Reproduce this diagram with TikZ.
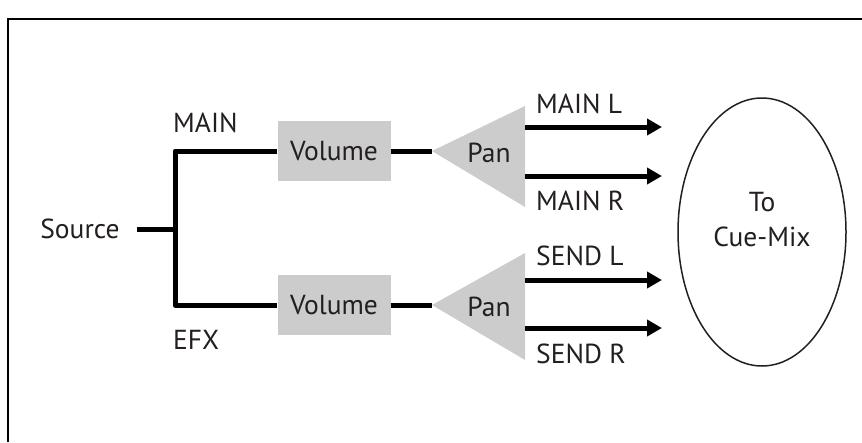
\documentclass[tikz,border=0pt]{standalone}
\usepackage{fontspec}
\setmainfont{PT Sans}
\usetikzlibrary{arrows.meta,shapes.geometric}
\definecolor{ink}{HTML}{231F20}
\definecolor{boxgray}{RGB}{204,204,204}
\tikzset{
  lbl/.style={font=\fontsize{27.5}{32}\selectfont, text=ink, inner sep=0pt},
  volbox/.style={lbl, fill=boxgray, minimum width=113pt, minimum height=60pt},
  wire/.style={draw=black, line width=5pt, line join=round},
  outwire/.style={wire, -{Triangle[length=15pt,width=16pt]}},
  panfill/.style={fill=boxgray},
}
\begin{document}
\begin{tikzpicture}[x=1pt,y=-1pt]
\useasboundingbox (0,0) rectangle (862,442);
% frame
\draw[line width=2pt] (8,442) -- (8,19) -- (862,19);

% source and split
\node[lbl] (src) at (80,229) {Source};
\coordinate (junc) at (175,229);
\node[lbl, anchor=west] (mainlbl) at (173,123) {MAIN};
\node[lbl, anchor=west] (efxlbl) at (173,340) {EFX};

% volume stages
\node[volbox] (vol1) at (334,151) {Volume};
\node[volbox] (vol2) at (334,305) {Volume};

% pan triangles
\coordinate (apex1) at (432,151);
\coordinate (apex2) at (432,305);
\fill[panfill] (apex1) -- (525,106) -- (525,207) -- cycle;
\fill[panfill] (apex2) -- (525,253) -- (525,360) -- cycle;
\node[lbl] (pan1) at (489,153) {Pan};
\node[lbl] (pan2) at (489,307) {Pan};

% destination
\node[draw=ink, line width=1.5pt, ellipse, minimum width=168pt, minimum height=268pt, inner sep=0pt] (cue) at (762,232) {};
\node[lbl, align=center, font=\fontsize{27.5}{35}\selectfont] (cuetxt) at (762,220) {To\\Cue-Mix};

% outputs
\coordinate (ml0) at (525,127); \coordinate (ml1) at (662,127);
\coordinate (mr0) at (525,176); \coordinate (mr1) at (662,176);
\coordinate (sl0) at (525,280); \coordinate (sl1) at (662,280);
\coordinate (sr0) at (525,328); \coordinate (sr1) at (662,328);
\node[lbl, anchor=west] (mainl) at (536,104) {MAIN L};
\node[lbl, anchor=west] (mainr) at (536,201) {MAIN R};
\node[lbl, anchor=west] (sendl) at (536,256) {SEND L};
\node[lbl, anchor=west] (sendr) at (536,354) {SEND R};

% wiring
\draw[wire] (src.east) ++(17,0) -- (junc);
\draw[wire] (vol1.west) -| (junc) |- (vol2.west);
\draw[wire] (vol1.east) -- (apex1);
\draw[wire] (vol2.east) -- (apex2);
\draw[outwire] (ml0) -- (ml1);
\draw[outwire] (mr0) -- (mr1);
\draw[outwire] (sl0) -- (sl1);
\draw[outwire] (sr0) -- (sr1);
\end{tikzpicture}
\end{document}
